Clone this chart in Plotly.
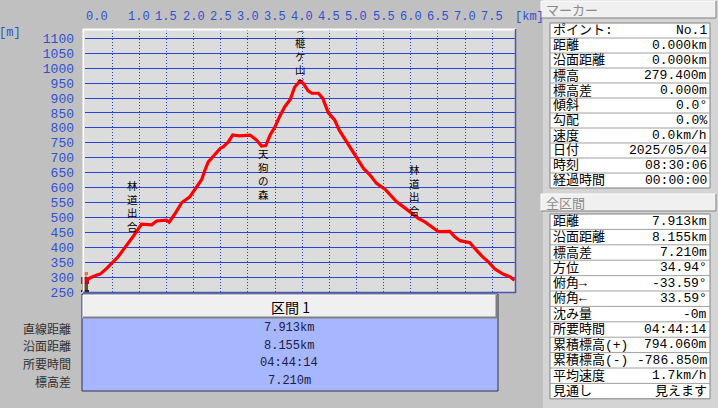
import plotly.graph_objects as go

# ---------------- data ----------------
dist_km = [0.00, 0.10, 0.22, 0.28, 0.40, 0.52, 0.61, 0.71, 0.80, 0.89, 0.98, 1.04, 1.23, 1.32, 1.50,
           1.55, 1.66, 1.78, 1.93, 2.03, 2.15, 2.21, 2.27, 2.33, 2.41, 2.49, 2.55, 2.64, 2.72, 2.84,
           3.04, 3.16, 3.25, 3.33, 3.41, 3.50, 3.59, 3.68, 3.78, 3.86, 3.96, 4.02, 4.11, 4.18, 4.30,
           4.38, 4.48, 4.60, 4.68, 4.82, 4.94, 5.02, 5.13, 5.25, 5.37, 5.53, 5.62, 5.74, 5.86, 6.02,
           6.14, 6.26, 6.39, 6.51, 6.72, 6.81, 6.91, 7.09, 7.18, 7.31, 7.43, 7.55, 7.70, 7.83, 7.91]
elev_m = [286, 298, 307, 310, 329, 351, 368, 393, 413, 437, 461, 477, 475, 488, 491,
          484, 513, 549, 569, 594, 627, 659, 686, 698, 716, 731, 737, 753, 776, 773,
          776, 759, 739, 741, 776, 804, 840, 871, 895, 936, 957, 949, 924, 916, 916,
          899, 851, 826, 793, 753, 715, 694, 664, 642, 614, 594, 575, 552, 536, 513,
          497, 485, 467, 452, 453, 435, 422, 415, 396, 370, 351, 327, 310, 301, 289]

x_grid_step = 0.5
x_tick_vals = [1.0, 1.5, 2.0, 2.5, 3.0, 3.5, 4.0, 4.5, 5.0, 5.5, 6.0, 6.5, 7.0, 7.5]
x_tick_text = ["1.0", "1.5", "2.0", "2.5", "3.0", "3.5", "4.0", "4.5", "5.0", "5.5", "6.0", "6.5", "7.0", "7.5"]
first_x_label = "0.0"
y_tick_vals = list(range(250, 1101, 50))

landmark_names = ["林道出合", "天狗の森", "榧ケ山", "林道出合"]
landmark_km = [0.88, 3.28, 3.96, 6.06]
peak_brackets = ["︵", "︶"]

section_title = "区間 1"
section_labels = ["直線距離", "沿面距離", "所要時間", "標高差"]
section_values = ["7.913km", "8.155km", "04:44:14", "7.210m"]

marker_title = "マーカー"
marker_labels = ["ポイント:", "距離", "沿面距離", "標高", "標高差", "傾斜", "勾配", "速度", "日付", "時刻", "経過時間"]
marker_values = ["No.1", "0.000km", "0.000km", "279.400m", "0.000m", "0.0°", "0.0%", "0.0km/h",
                 "2025/05/04", "08:30:06", "00:00:00"]

total_title = "全区間"
total_labels = ["距離", "沿面距離", "標高差", "方位", "俯角→", "俯角←", "沈み量", "所要時間",
                "累積標高(+)", "累積標高(-)", "平均速度", "見通し"]
total_values = ["7.913km", "8.155km", "7.210m", "34.94°", "-33.59°", "33.59°", "-0m", "04:44:14",
                "794.060m", "-786.850m", "1.7km/h", "見えます"]

# ---------------- layout geometry (pixels) ----------------
W, H = 718, 408
L, R, T, B = 85, 515, 30, 292
X_MAX = 7.92
Y_MIN = 250
Y_MAX = 250 + (B - T) / 0.2984


def px(x):
    return (x - L) / (R - L)


def py(y):
    return (B - y) / (B - T)


def kmx(km):
    return L + km / X_MAX * (R - L)


MONO = "Liberation Mono, Noto Sans CJK JP, sans-serif"
JP = "Noto Sans CJK JP, sans-serif"
BLUE_TXT = "#3050D0"
GRID = "#2844D8"

shapes = []
annotations = []


def rect(x0, y0, x1, y1, fill, line=None, lw=1):
    shapes.append(dict(type="rect", xref="paper", yref="paper", x0=px(x0), x1=px(x1), y0=py(y0), y1=py(y1),
                       fillcolor=fill, line=dict(color=line or fill, width=lw if line else 0), layer="below"))


def hline(x0, x1, y, color, w=1):
    shapes.append(dict(type="line", xref="paper", yref="paper", x0=px(x0), x1=px(x1), y0=py(y), y1=py(y),
                       line=dict(color=color, width=w)))


def vline(x, y0, y1, color, w=1):
    shapes.append(dict(type="line", xref="paper", yref="paper", x0=px(x), x1=px(x), y0=py(y0), y1=py(y1),
                       line=dict(color=color, width=w)))


def text(x, y, s, size=12, color="black", xanchor="center", family=MONO):
    annotations.append(dict(x=px(x), y=py(y), xref="paper", yref="paper", text=s, showarrow=False,
                            xanchor=xanchor, yanchor="middle", font=dict(size=size, color=color, family=family),
                            borderpad=0))


# right panel background
rect(543, 0, 718, 408, "#D4D4D4")

# panel headers
for (y0, y1, title) in [(1, 18, marker_title), (194, 211, total_title)]:
    rect(541, y0, 716, y1, "#F0F0F0")
    hline(541, 716, y0, "#FFFFFF")
    vline(541, y0, y1, "#FFFFFF")
    hline(541, 716, y1, "#808080")
    vline(716, y0, y1, "#808080")
    text(545, (y0 + y1) / 2, title, size=13, color="#8A8A8A", xanchor="left", family=JP)

# info tables
for (top, pitch, labels, values) in [(23, 15.0, marker_labels, marker_values),
                                     (214, 15.4, total_labels, total_values)]:
    n = len(labels)
    bottom = top + pitch * n
    rect(550, top, 710, bottom, "#FFFFFF", line="#808080")
    for i in range(1, n):
        hline(550, 710, top + pitch * i, "#A0A0A0")
    for i, (lab, val) in enumerate(zip(labels, values)):
        yc = top + pitch * (i + 0.5)
        text(552, yc, lab, size=13, xanchor="left")
        text(708, yc, val, size=13, xanchor="right")

# bottom section table
rect(82, 294, 498, 391, "#A6B6FF", line="#303050")
rect(83, 295, 497, 318, "#F0F0F0")
hline(83, 497, 295, "#FFFFFF")
vline(83, 295, 318, "#FFFFFF")
hline(83, 497, 317.5, "#808080", 2)
vline(496.5, 295, 318, "#808080", 2)
text(290, 306.5, section_title, size=14, family=JP)
for i, (lab, val) in enumerate(zip(section_labels, section_values)):
    yc = 328 + 17.7 * i
    text(72, yc, lab, size=12, color="#303030", xanchor="right", family=JP)
    text(289, yc, val, size=12, color="#202040")

# plot frame
vline(83.5, T - 1, B + 1, "#FFFFFF", 2)
hline(83, R + 1, T - 0.5, "#FFFFFF", 2)
vline(R + 0.5, T - 1, B + 1, "#4858B0", 1.5)
hline(83, R + 1, B + 0.5, "#4858B0", 1.5)

# x tick labels (top)
text(97, 17, first_x_label, size=12, color=BLUE_TXT)
for v, t in zip(x_tick_vals, x_tick_text):
    text(kmx(v), 17, t, size=12, color=BLUE_TXT)
text(529, 17, "[km]", size=12, color=BLUE_TXT)
text(10, 33, "[m]", size=12, color=BLUE_TXT)

# landmarks (vertical text)
landmark_center = [206, 174, 56, 190]
for name, km, yc in zip(landmark_names, landmark_km, landmark_center):
    text(kmx(km), yc, "<br>".join(name), size=10.5, family=JP)
# brackets around the peak name
text(kmx(landmark_km[2]), 29.5, peak_brackets[0], size=7, family=JP)
text(kmx(landmark_km[2]), 81.5, peak_brackets[1], size=7, family=JP)

# hiker icon at start
rect(83, 272, 88, 275, "#D08040")
rect(84, 275, 87, 277, "#E0A070")
rect(81, 277, 89, 284, "#8E1C28")
rect(82, 284, 88, 290, "#6A4A2A")
rect(81, 290, 89, 292, "#202020")

fig = go.Figure()
fig.add_trace(go.Scatter(x=dist_km, y=elev_m, mode="lines",
                         line=dict(color="#FF0000", width=3.2), hoverinfo="skip", showlegend=False))

fig.update_layout(
    width=W, height=H, autosize=False,
    margin=dict(l=L, r=W - R, t=T, b=H - B, pad=0),
    paper_bgcolor="#C0C0C0", plot_bgcolor="#DCDCDC",
    shapes=shapes, annotations=annotations, showlegend=False,
    xaxis=dict(range=[0, X_MAX], dtick=x_grid_step, tick0=0, showgrid=True, gridcolor=GRID, gridwidth=1,
               griddash="1px,2px", showticklabels=False, zeroline=False, showline=False, ticks="",
               automargin=False, fixedrange=True),
    yaxis=dict(range=[Y_MIN, Y_MAX], tickvals=y_tick_vals, showgrid=True, gridcolor=GRID, gridwidth=1,
               zeroline=False, showline=False, ticks="", ticklabelstandoff=10,
               tickfont=dict(size=13, color=BLUE_TXT, family=MONO), automargin=False, fixedrange=True),
)

fig.write_html("out.html", config={"displayModeBar": False},
               post_script="document.body.style.margin='0';document.body.style.overflow='hidden';")
